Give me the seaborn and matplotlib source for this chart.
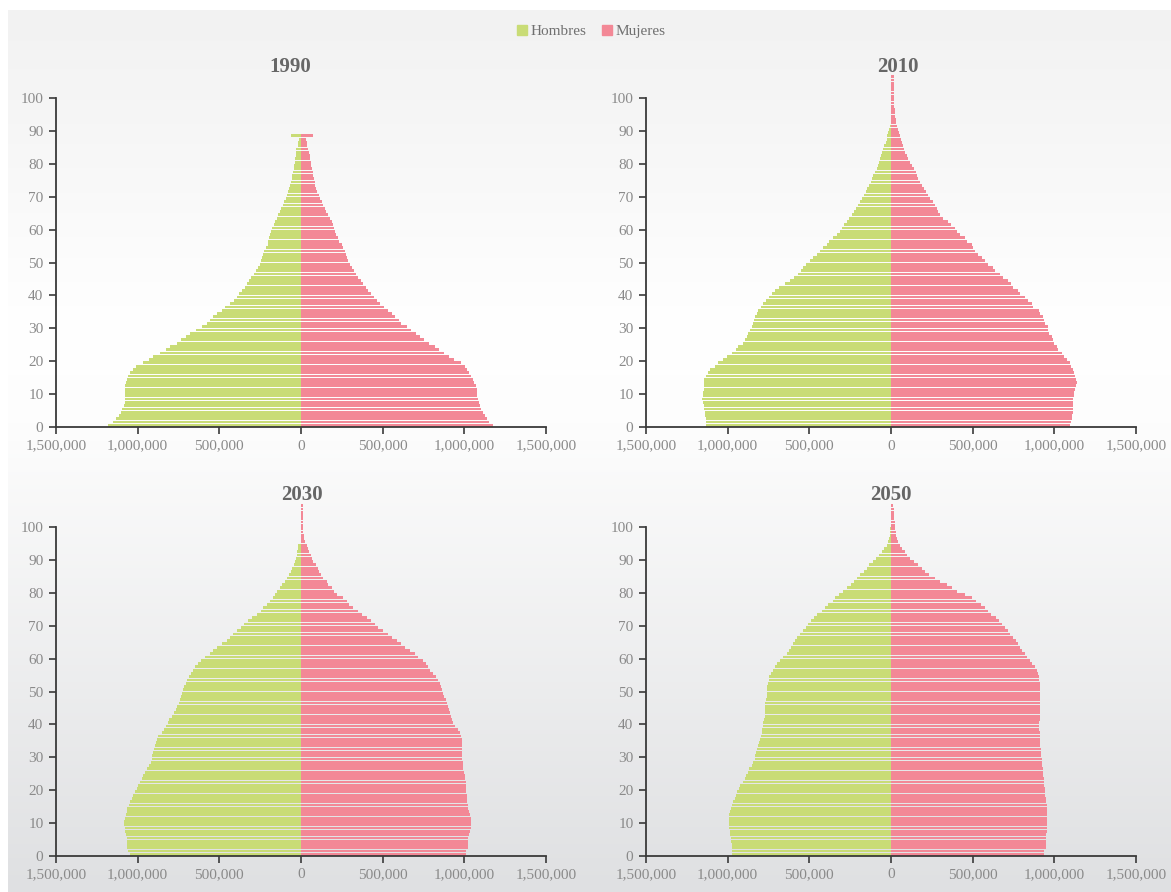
import numpy as np
import pandas as pd
import matplotlib
matplotlib.use("Agg")
import matplotlib.pyplot as plt
import seaborn as sns
from matplotlib.colors import LinearSegmentedColormap
from matplotlib.lines import Line2D
from matplotlib.ticker import FuncFormatter

# population by single year of age, in thousands
ages_1990 = list(range(0, 89))   # last bar is 88+
ages_full = list(range(0, 107))

hombres_1990 = [1180, 1150, 1131, 1115, 1104, 1094, 1085, 1080, 1078, 1078,
                1078, 1078, 1078, 1074, 1067, 1058, 1046, 1030, 1011, 965,
                930, 908, 862, 827, 800, 758, 735, 707, 677, 643,
                608, 578, 555, 539, 516, 481, 465, 435, 412, 394,
                378, 362, 343, 332, 316, 304, 290, 274, 263, 251,
                247, 240, 235, 228, 217, 205, 200, 194, 187, 182,
                177, 166, 159, 147, 141, 131, 122, 113, 106, 94,
                85, 78, 71, 67, 62, 55, 53, 48, 44, 41,
                39, 37, 32, 30, 28, 21, 16, 14, 60]
mujeres_1990 = [1173, 1154, 1138, 1127, 1115, 1104, 1097, 1090, 1085, 1080,
                1080, 1080, 1071, 1062, 1053, 1039, 1028, 1016, 1007, 982,
                935, 905, 878, 843, 820, 786, 751, 728, 705, 675,
                647, 613, 597, 578, 555, 532, 509, 486, 463, 445,
                429, 412, 401, 382, 366, 352, 336, 325, 313, 302,
                290, 279, 274, 270, 260, 251, 233, 226, 217, 210,
                200, 194, 187, 177, 168, 154, 145, 136, 129, 118,
                108, 99, 90, 85, 83, 78, 76, 71, 67, 62,
                60, 58, 53, 48, 44, 39, 35, 32, 76]

hombres_2010 = [1133, 1133, 1135, 1137, 1137, 1143, 1145, 1149, 1157, 1153,
                1149, 1147, 1147, 1145, 1143, 1133, 1123, 1108, 1078, 1057,
                1027, 1002, 976, 949, 935, 904, 892, 884, 874, 863,
                853, 843, 837, 831, 823, 812, 798, 782, 765, 745,
                731, 710, 684, 649, 618, 594, 567, 553, 537, 520,
                496, 476, 455, 435, 418, 394, 378, 357, 333, 312,
                302, 288, 267, 255, 241, 227, 214, 200, 190, 180,
                165, 153, 145, 133, 124, 114, 108, 98, 88, 80,
                71, 67, 61, 55, 47, 41, 33, 27, 22, 16,
                10, 6, 3, 2, 2, 1, 1, 1, 1, 1,
                0, 0, 0, 0, 0, 0, 0]
mujeres_2010 = [1096, 1100, 1106, 1110, 1112, 1112, 1112, 1114, 1116, 1118,
                1122, 1127, 1133, 1137, 1133, 1125, 1118, 1112, 1104, 1096,
                1076, 1062, 1049, 1025, 1016, 1000, 990, 984, 967, 963,
                959, 943, 939, 933, 912, 906, 872, 861, 841, 820,
                790, 778, 749, 733, 718, 688, 667, 637, 627, 596,
                576, 556, 535, 514, 504, 494, 463, 455, 422, 406,
                392, 370, 350, 320, 300, 290, 280, 268, 259, 239,
                225, 212, 200, 192, 178, 165, 157, 150, 143, 130,
                116, 106, 96, 86, 80, 76, 65, 60, 55, 48,
                41, 36, 31, 28, 25, 23, 22, 21, 21, 20,
                20, 20, 20, 19, 19, 19, 19]

hombres_2030 = [1047, 1057, 1063, 1067, 1067, 1067, 1072, 1076, 1078, 1082,
                1082, 1078, 1074, 1067, 1063, 1055, 1047, 1037, 1027, 1016,
                1006, 996, 986, 976, 965, 955, 941, 929, 920, 914,
                910, 904, 900, 894, 888, 884, 874, 853, 839, 827,
                816, 806, 792, 778, 765, 757, 745, 741, 737, 729,
                725, 714, 704, 696, 684, 676, 663, 649, 629, 614,
                588, 557, 541, 516, 486, 455, 435, 418, 394, 369,
                347, 322, 302, 271, 247, 231, 210, 190, 173, 159,
                149, 129, 118, 98, 88, 71, 63, 53, 43, 37,
                31, 27, 22, 16, 16, 3, 2, 2, 1, 1,
                1, 1, 0, 0, 0, 0, 0]
mujeres_2030 = [1008, 1010, 1021, 1025, 1025, 1025, 1029, 1035, 1039, 1041,
                1041, 1039, 1035, 1031, 1025, 1021, 1018, 1014, 1014, 1012,
                1010, 1008, 1008, 1006, 1004, 1000, 994, 990, 990, 988,
                988, 988, 986, 984, 984, 984, 980, 974, 959, 945,
                930, 923, 918, 912, 906, 900, 892, 886, 873, 870,
                865, 858, 851, 841, 825, 808, 790, 780, 765, 745,
                715, 695, 667, 637, 610, 586, 555, 531, 504, 469,
                453, 429, 402, 371, 351, 320, 294, 280, 255, 222,
                205, 188, 167, 157, 137, 122, 110, 102, 90, 76,
                69, 59, 49, 41, 37, 24, 20, 16, 15, 14,
                14, 13, 13, 12, 12, 12, 11]

hombres_2050 = [976, 976, 976, 976, 978, 980, 984, 988, 992, 992,
                992, 992, 990, 986, 982, 976, 969, 955, 949, 941,
                931, 925, 904, 896, 888, 878, 867, 851, 843, 835,
                831, 827, 818, 812, 806, 802, 798, 792, 788, 786,
                782, 778, 774, 769, 769, 769, 769, 767, 759, 757,
                757, 757, 755, 749, 747, 737, 725, 710, 696, 680,
                659, 639, 627, 614, 598, 588, 573, 557, 537, 522,
                510, 490, 471, 451, 424, 404, 384, 357, 343, 316,
                296, 271, 247, 227, 206, 190, 165, 149, 133, 112,
                92, 75, 57, 41, 27, 18, 12, 8, 6, 4,
                3, 2, 2, 1, 1, 1, 0]
mujeres_2050 = [939, 939, 947, 947, 947, 949, 949, 953, 957, 957,
                957, 957, 957, 957, 955, 953, 951, 947, 945, 941,
                941, 939, 935, 935, 931, 931, 929, 927, 925, 922,
                920, 918, 916, 914, 912, 912, 910, 910, 908, 906,
                906, 910, 912, 912, 914, 914, 914, 914, 914, 914,
                914, 914, 912, 908, 906, 902, 892, 880, 866, 851,
                833, 820, 804, 790, 775, 765, 745, 730, 718, 698,
                678, 660, 640, 612, 596, 576, 548, 520, 494, 455,
                405, 375, 345, 300, 270, 235, 210, 190, 163, 140,
                116, 100, 85, 69, 55, 45, 39, 33, 28, 25,
                24, 22, 20, 18, 17, 16, 15]

years = ["1990", "2010", "2030", "2050"]
series = {
    "1990": (ages_1990, hombres_1990, mujeres_1990),
    "2010": (ages_full, hombres_2010, mujeres_2010),
    "2030": (ages_full, hombres_2030, mujeres_2030),
    "2050": (ages_full, hombres_2050, mujeres_2050),
}

GREEN = "#c9dc76"
PINK = "#f38896"
palette = {"Hombres": GREEN, "Mujeres": PINK}

plt.rcParams["font.family"] = ["Liberation Serif", "DejaVu Serif"]

W, H = 1171, 892
fig = plt.figure(figsize=(W / 100, H / 100), dpi=100, facecolor="white")

# background gradient panel
bg = fig.add_axes([8 / W, 0, 1 - 8 / W, (H - 10) / H])
bg_cmap = LinearSegmentedColormap.from_list(
    "bg", [(0.0, "#f2f2f2"), (0.10, "#f5f5f5"), (0.36, "#ffffff"),
           (0.47, "#fdfdfd"), (1.0, "#dfe0e2")])
bg.imshow(np.linspace(0, 1, 256).reshape(-1, 1), aspect="auto", cmap=bg_cmap)
bg.axis("off")
bg.set_zorder(-5)

# axes boxes in pixels: left, top(of ylim=107), bottom(of 0)
boxes = {
    "1990": (56, 75, 427),
    "2010": (646, 75, 427),
    "2030": (56, 504, 856),
    "2050": (646, 504, 856),
}
title_pos = {"1990": (290, 67), "2010": (898, 67), "2030": (302, 495), "2050": (891, 495)}

fmt = FuncFormatter(lambda v, p: f"{abs(v) * 1000:,.0f}")

for yr in years:
    left, top, bottom = boxes[yr]
    ax = fig.add_axes([left / W, (H - bottom) / H, 490 / W, (bottom - top) / H])
    ax.set_facecolor("none")

    ages, men, women = series[yr]
    df = pd.concat([
        pd.DataFrame({"edad": ages, "valor": [-v for v in men], "sexo": "Hombres"}),
        pd.DataFrame({"edad": ages, "valor": women, "sexo": "Mujeres"}),
    ])
    df["centro"] = df["edad"] + 0.5

    sns.barplot(data=df, x="valor", y="centro", hue="sexo", orient="y",
                native_scale=True, dodge=False, width=0.85, palette=palette,
                saturation=1, errorbar=None, linewidth=0, legend=False, ax=ax)

    ax.set_xlim(-1500, 1500)
    ax.set_ylim(0, 107)
    ax.set_xlabel("")
    ax.set_ylabel("")
    ax.set_xticks([-1500, -1000, -500, 0, 500, 1000, 1500])
    ax.xaxis.set_major_formatter(fmt)
    ax.set_yticks(range(0, 101, 10))
    ax.set_yticklabels([str(t) for t in range(0, 101, 10)])
    for s in ["top", "right"]:
        ax.spines[s].set_visible(False)
    for s in ["left", "bottom"]:
        ax.spines[s].set_color("#3a3a3a")
        ax.spines[s].set_linewidth(1.3)
    ax.spines["left"].set_bounds(0, 100)
    ax.tick_params(axis="both", direction="out", length=5, width=1.2,
                   color="#3a3a3a", labelcolor="#8a8a8a", labelsize=11, pad=4)
    ax.grid(False)

    tx, ty = title_pos[yr]
    fig.text(tx / W, 1 - ty / H, yr, ha="center", va="center",
             fontsize=15, fontweight="bold", color="#666666")

handles = [Line2D([], [], marker="s", linestyle="", markersize=6.5, color=palette[k],
                  label=k) for k in ["Hombres", "Mujeres"]]
fig.legend(handles=handles, loc="center", bbox_to_anchor=(590 / W, 1 - 31 / H),
           ncol=2, frameon=False, fontsize=11, labelcolor="#707070",
           handletextpad=0.1, columnspacing=0.8, handlelength=1.0)

fig.savefig("out.png", dpi=100, facecolor="white")
